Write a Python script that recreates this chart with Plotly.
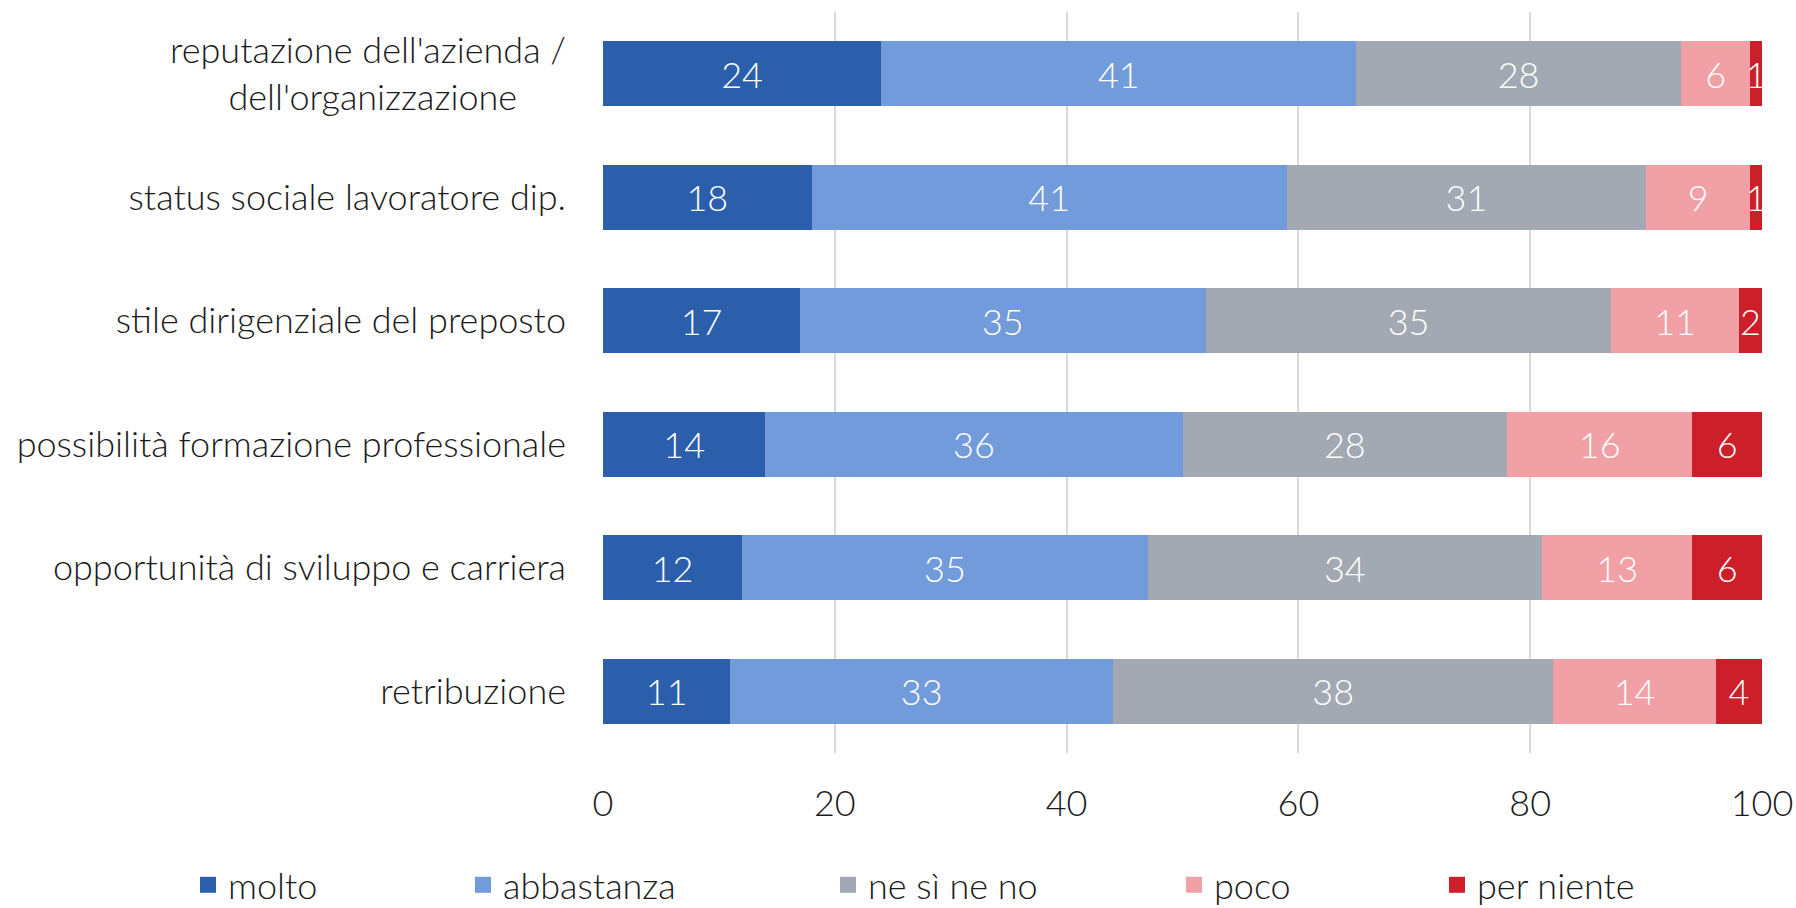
import plotly.graph_objects as go

categories = [
    "reputazione dell'azienda /<br>dell'organizzazione" + "\u00a0" * 5,
    "status sociale lavoratore dip.",
    "stile dirigenziale del preposto",
    "possibilità formazione professionale",
    "opportunità di sviluppo e carriera",
    "retribuzione",
]
series_names = ["molto", "abbastanza", "ne sì ne no", "poco", "per niente"]
molto = [24, 18, 17, 14, 12, 11]
abbastanza = [41, 41, 35, 36, 35, 33]
ne_si_ne_no = [28, 31, 35, 28, 34, 38]
poco = [6, 9, 11, 16, 13, 14]
per_niente = [1, 1, 2, 6, 6, 4]
x_ticks = [0, 20, 40, 60, 80, 100]

values = [molto, abbastanza, ne_si_ne_no, poco, per_niente]
colors = ["#2B5EAB", "#729BDC", "#A2A9B2", "#F1A0A6", "#CD1F2A"]

FONT = "Source Sans Pro, Lato, Noto Sans, sans-serif"
FS = 36
W, H = 1796, 908
ML, MR, MT, MB = 603, 34, 12, 155
PW = W - ML - MR
legend_px = [200, 475, 840, 1186, 1449]  # left edge of each legend symbol (px)

fig = go.Figure()
for name, vals, col in zip(series_names, values, colors):
    fig.add_trace(go.Bar(
        y=categories, x=vals, name=name, orientation="h",
        marker=dict(color=col, line=dict(width=0)),
        text=[str(v) for v in vals], textposition="inside",
        insidetextanchor="middle",
        textfont=dict(color="white", size=FS, family=FONT, weight=300),
        constraintext="none", cliponaxis=False, showlegend=False,
    ))

legend_layouts = {}
for i, (name, col, px) in enumerate(zip(series_names, colors, legend_px)):
    lname = "legend" if i == 0 else f"legend{i + 1}"
    fig.add_trace(go.Scatter(
        x=[None], y=[None], mode="markers", name=name,
        marker=dict(symbol="square", size=20, color=col),
        legend=lname, showlegend=True, hoverinfo="skip",
    ))
    legend_layouts[lname] = dict(
        orientation="h", x=(px - 12 - ML) / PW, xanchor="left",
        y=-0.178, yanchor="middle", itemwidth=30,
        font=dict(size=FS, family=FONT, weight=300, color="#1a1a1a"),
        bgcolor="rgba(0,0,0,0)",
    )

fig.update_layout(
    barmode="stack",
    bargap=0.47,
    width=W, height=H,
    margin=dict(l=ML, r=MR, t=MT, b=MB, autoexpand=False),
    plot_bgcolor="white", paper_bgcolor="white",
    font=dict(family=FONT, size=FS, color="#1a1a1a", weight=300),
    uniformtext=dict(minsize=FS, mode="show"),
    xaxis=dict(range=[0, 100], tickvals=x_ticks, showgrid=True,
               gridcolor="#D9D9D9", gridwidth=2, zeroline=False,
               showline=False, ticks="", ticklabelstandoff=26,
               automargin=False,
               tickfont=dict(size=FS, family=FONT, weight=300)),
    yaxis=dict(autorange="reversed", showgrid=False, zeroline=False,
               showline=False, ticks="", ticklabelstandoff=36,
               automargin=False,
               tickfont=dict(size=FS, family=FONT, weight=300)),
    showlegend=True,
    **legend_layouts,
)

fig.write_html("out.html", config={"displayModeBar": False},
               post_script="document.body.style.margin='0';")
